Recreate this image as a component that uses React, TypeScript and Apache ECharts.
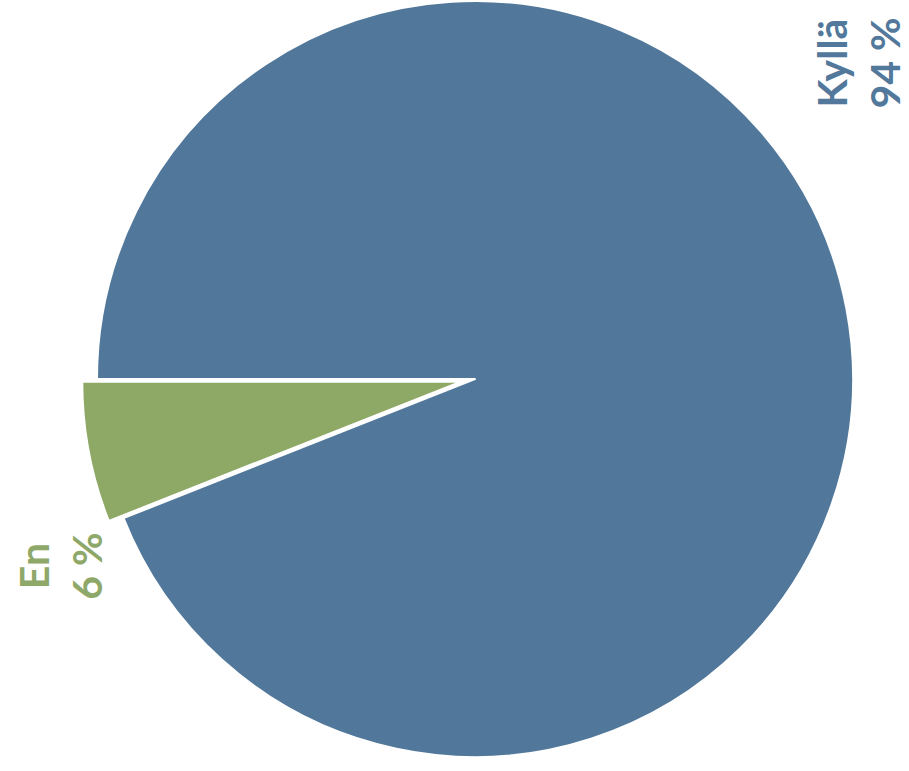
import React, { useEffect, useRef } from "react";
import * as echarts from "echarts";

const categories = ["Kyllä", "En"];
const values = [94, 6];
const colors = ["#51789b", "#8ea866"];
const labelColors = ["#52789b", "#8ea86a"];

export default function App() {
  const ref = useRef<HTMLDivElement>(null);
  useEffect(() => {
    if (!ref.current) return;
    const chart = echarts.init(ref.current, undefined, { renderer: "svg" });
    const total = values.reduce((a, b) => a + b, 0);
    const labelPos = [
      { x: 858, y: 63 },
      { x: 60, y: 566 },
    ];
    chart.setOption({
      animation: false,
      backgroundColor: "#ffffff",
      series: [
        {
          type: "pie",
          center: [475, 379],
          radius: [0, 378],
          startAngle: 180,
          clockwise: true,
          selectedMode: "single",
          selectedOffset: 15,
          label: { show: false },
          labelLine: { show: false },
          emphasis: { disabled: true },
          itemStyle: { borderColor: "#ffffff", borderWidth: 2 },
          data: categories.map((c, i) => ({
            name: c,
            value: values[i],
            selected: c === "En",
            itemStyle: { color: colors[i] },
          })),
        },
      ],
      graphic: categories.map((c, i) => ({
        type: "text",
        x: labelPos[i].x,
        y: labelPos[i].y,
        rotation: Math.PI / 2,
        style: {
          text: `${c}\n${Math.round((values[i] / total) * 100)} %`,
          fill: labelColors[i],
          font: "bold 41px Lato, 'Open Sans', sans-serif",
          align: "center",
          verticalAlign: "middle",
          lineHeight: 53,
        },
      })),
    });
    return () => chart.dispose();
  }, []);
  return (
    <div
      ref={ref}
      style={{ position: "fixed", left: 0, top: 0, width: 909, height: 771 }}
    />
  );
}
